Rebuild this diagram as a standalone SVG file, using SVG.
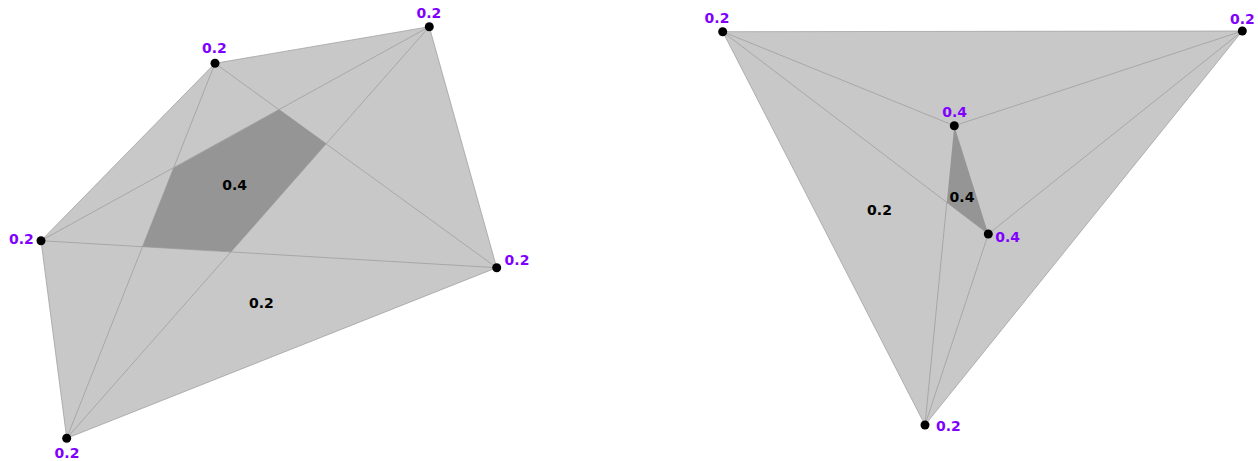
<svg xmlns="http://www.w3.org/2000/svg" width="1258" height="461" viewBox="0 0 1258 461">
<style>
.light{fill:#c8c8c8;stroke:none}
.dark{fill:#959595;stroke:none}
.edge{stroke:#999;stroke-width:0.7;fill:none}
.dot{fill:#000}
.w{font-family:"DejaVu Sans",sans-serif;font-weight:bold;font-size:14px;fill:#7f00ff}
.r{font-family:"DejaVu Sans",sans-serif;font-weight:bold;font-size:14px;fill:#000}
</style>
<rect width="1258" height="461" fill="#fff"/>
<g id="regions">
<polygon class="light" points="215,63.3 429.3,26.7 496.7,267.7 66.7,438.3 41,240.7"/>
<polygon class="dark" points="173.6,167.9 279.3,109.6 326.3,143.5 231,251.8 142.5,246.8"/>
<polygon class="light" points="722.7,31.7 1242.3,31 925,425"/>
<polygon class="dark" points="954.3,125.7 988.3,234 946.8,202.4"/>
</g>
<g id="connectors" class="edge">
<line x1="215" y1="63.3" x2="429.3" y2="26.7"/>
<line x1="215" y1="63.3" x2="496.7" y2="267.7"/>
<line x1="215" y1="63.3" x2="66.7" y2="438.3"/>
<line x1="215" y1="63.3" x2="41" y2="240.7"/>
<line x1="429.3" y1="26.7" x2="496.7" y2="267.7"/>
<line x1="429.3" y1="26.7" x2="66.7" y2="438.3"/>
<line x1="429.3" y1="26.7" x2="41" y2="240.7"/>
<line x1="496.7" y1="267.7" x2="66.7" y2="438.3"/>
<line x1="496.7" y1="267.7" x2="41" y2="240.7"/>
<line x1="66.7" y1="438.3" x2="41" y2="240.7"/>
<line x1="722.7" y1="31.7" x2="1242.3" y2="31"/>
<line x1="722.7" y1="31.7" x2="925" y2="425"/>
<line x1="1242.3" y1="31" x2="925" y2="425"/>
<line x1="722.7" y1="31.7" x2="954.3" y2="125.7"/>
<line x1="1242.3" y1="31" x2="954.3" y2="125.7"/>
<line x1="722.7" y1="31.7" x2="988.3" y2="234"/>
<line x1="1242.3" y1="31" x2="988.3" y2="234"/>
<line x1="925" y1="425" x2="988.3" y2="234"/>
<line x1="925" y1="425" x2="946.8" y2="202.4"/>
</g>
<g id="region-labels">
<text class="r" x="234.7" y="190" text-anchor="middle">0.4</text>
<text class="r" x="261.3" y="308.3" text-anchor="middle">0.2</text>
<text class="r" x="879.5" y="214.5" text-anchor="middle">0.2</text>
<text class="r" x="962" y="201.7" text-anchor="middle">0.4</text>
</g>
<g id="nA"><circle class="dot" cx="215" cy="63.3" r="4.5"/><text class="w" x="214.4" y="53.3" text-anchor="middle">0.2</text></g>
<g id="nB"><circle class="dot" cx="429.3" cy="26.7" r="4.5"/><text class="w" x="428.8" y="17.7" text-anchor="middle">0.2</text></g>
<g id="nC"><circle class="dot" cx="41" cy="240.7" r="4.5"/><text class="w" x="21.3" y="244.3" text-anchor="middle">0.2</text></g>
<g id="nD"><circle class="dot" cx="496.7" cy="267.7" r="4.5"/><text class="w" x="517" y="265" text-anchor="middle">0.2</text></g>
<g id="nE"><circle class="dot" cx="66.7" cy="438.3" r="4.5"/><text class="w" x="67" y="457.7" text-anchor="middle">0.2</text></g>
<g id="nP"><circle class="dot" cx="722.7" cy="31.7" r="4.5"/><text class="w" x="717" y="23.3" text-anchor="middle">0.2</text></g>
<g id="nQ"><circle class="dot" cx="1242.3" cy="31" r="4.5"/><text class="w" x="1242.3" y="23.7" text-anchor="middle">0.2</text></g>
<g id="nR"><circle class="dot" cx="954.3" cy="125.7" r="4.5"/><text class="w" x="954.7" y="117.3" text-anchor="middle">0.4</text></g>
<g id="nS"><circle class="dot" cx="988.3" cy="234" r="4.5"/><text class="w" x="1007.7" y="242" text-anchor="middle">0.4</text></g>
<g id="nT"><circle class="dot" cx="925" cy="425" r="4.5"/><text class="w" x="948.4" y="431" text-anchor="middle">0.2</text></g>
</svg>
